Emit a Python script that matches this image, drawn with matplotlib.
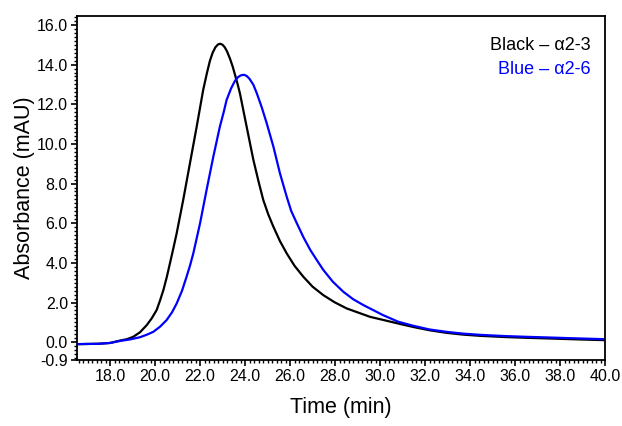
import numpy as np
import matplotlib
matplotlib.use("Agg")
import matplotlib.pyplot as plt
from matplotlib.ticker import MultipleLocator, FixedLocator

plt.rcParams['font.family'] = ['Liberation Sans', 'DejaVu Sans']

# alpha2-3 trace (black)
t_black = [16.53, 17.5, 18.0, 18.44, 18.75, 19.03, 19.33, 19.63, 19.85, 20.07, 20.22, 20.37,
           20.52, 20.66, 20.81, 20.96, 21.1, 21.25, 21.55, 21.85, 22.14, 22.3, 22.44,
           22.56, 22.68, 22.8, 22.9, 23.0, 23.1, 23.2, 23.33, 23.45, 23.55, 23.66, 23.77,
           24.07, 24.37, 24.6, 24.81, 25.03, 25.26, 25.55, 25.85, 26.2, 26.59, 27.0, 27.48,
           28.0, 28.52, 29.55, 30.81, 31.5, 32.2, 32.96, 33.7, 34.44, 35.5, 36.5,
           37.4, 38.5, 40.0]
a_black = [-0.1, -0.08, -0.04, 0.08, 0.15, 0.27, 0.5, 0.86, 1.2, 1.62, 2.1, 2.63,
           3.28, 3.97, 4.72, 5.49, 6.3, 7.17, 9.02, 10.87, 12.73, 13.55, 14.2,
           14.6, 14.87, 15.02, 15.05, 15.0, 14.87, 14.66, 14.3, 13.9, 13.5, 13.05, 12.56,
           10.87, 9.19, 8.1, 7.17, 6.45, 5.82, 5.1, 4.48, 3.85, 3.3, 2.8, 2.37,
           2.0, 1.70, 1.28, 0.94, 0.76, 0.6, 0.47, 0.38, 0.32, 0.26, 0.22,
           0.19, 0.15, 0.10]

# alpha2-6 trace (blue)
t_blue = [16.53, 17.5, 18.0, 18.44, 18.9, 19.33, 19.62, 19.92, 20.22, 20.51, 20.75, 20.96,
          21.2, 21.4, 21.55, 21.7, 22.0, 22.29, 22.59, 22.88, 23.05, 23.18, 23.38, 23.55,
          23.68, 23.8, 23.9, 23.97, 24.08, 24.2, 24.37, 24.52, 24.74, 24.96, 25.26, 25.55,
          25.85, 26.05, 26.3, 26.6, 26.9, 27.2, 27.48, 27.9, 28.37, 28.8, 29.26, 30.14,
          30.81, 31.5, 32.2, 32.96, 33.7, 34.44, 35.5, 36.5, 37.4, 38.5, 40.0]
a_blue = [-0.1, -0.08, -0.04, 0.06, 0.14, 0.25, 0.37, 0.52, 0.78, 1.11, 1.5, 1.95,
          2.6, 3.3, 3.85, 4.48, 6.0, 7.68, 9.36, 10.87, 11.6, 12.22, 12.8, 13.18,
          13.36, 13.45, 13.48, 13.48, 13.42, 13.28, 12.98, 12.56, 11.85, 11.05, 9.86, 8.52,
          7.34, 6.62, 6.0, 5.28, 4.65, 4.12, 3.64, 3.05, 2.54, 2.17, 1.87, 1.36,
          1.03, 0.82, 0.64, 0.52, 0.43, 0.37, 0.31, 0.27, 0.24, 0.20, 0.15]

y_ticks = [-0.9, 0, 2, 4, 6, 8, 10, 12, 14, 16]
x_ticks = np.arange(18, 41, 2)

fig = plt.figure(figsize=(6.22, 4.26), dpi=100)
ax = fig.add_axes([0.1238, 0.1549, 0.8489, 0.8075])

ax.plot(t_black, a_black, color='black', lw=1.6)
ax.plot(t_blue, a_blue, color='#0000ff', lw=1.6)

ax.set_xlim(16.53, 40.0)
ax.set_ylim(-0.9, 16.45)

ax.xaxis.set_major_locator(FixedLocator(x_ticks))
ax.xaxis.set_minor_locator(MultipleLocator(0.2))
ax.yaxis.set_major_locator(FixedLocator(y_ticks))
ax.yaxis.set_minor_locator(MultipleLocator(0.2))
ax.set_xticklabels(['%.1f' % v for v in x_ticks])
ax.set_yticklabels(['%.1f' % v for v in y_ticks])

ax.tick_params(which='major', direction='out', length=4, width=1.2, labelsize=11.5, pad=2.5)
ax.tick_params(which='minor', direction='out', length=2.5, width=1.0)
for s in ax.spines.values():
    s.set_linewidth(1.3)

ax.set_xlabel('Time (min)', fontsize=15.5, labelpad=9)
ax.set_ylabel('Absorbance (mAU)', fontsize=15.5, labelpad=1)

ax.text(0.973, 0.915, 'Black – α2-3', transform=ax.transAxes, ha='right', va='center',
        fontsize=13, color='black')
ax.text(0.973, 0.845, 'Blue – α2-6', transform=ax.transAxes, ha='right', va='center',
        fontsize=13, color='#0000ff')

fig.savefig('out.png', dpi=100)
